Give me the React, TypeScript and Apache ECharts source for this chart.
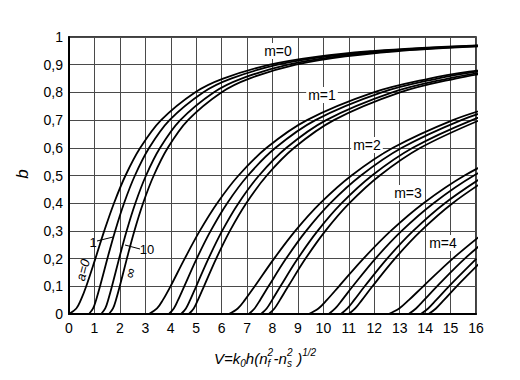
import React, { useEffect, useRef } from 'react';
import * as echarts from 'echarts';

// b levels at which V was read for each mode
const bLevelsM0 = [0, 0.02, 0.05, 0.1, 0.2, 0.3, 0.4, 0.5, 0.6, 0.7, 0.8, 0.85, 0.9, 0.93, 0.95, 0.96, 0.97];
const bLevelsM1 = [0, 0.02, 0.05, 0.1, 0.2, 0.3, 0.4, 0.5, 0.6, 0.7, 0.8, 0.85, 0.875, 0.9];
const bLevelsM2 = [0, 0.02, 0.05, 0.1, 0.2, 0.3, 0.4, 0.5, 0.6, 0.7, 0.75];
const bLevelsM3 = [0, 0.02, 0.05, 0.1, 0.2, 0.3, 0.4, 0.5, 0.6];
const bLevelsM4 = [0, 0.02, 0.05, 0.1, 0.2, 0.3];

// V values (x) for a = 0, 1, 10, ∞
const m0_a0 = [0, 0.287, 0.463, 0.678, 1.037, 1.386, 1.768, 2.221, 2.802, 3.619, 4.951, 6.058, 7.9, 9.846, 12.032, 13.694, 16.128];
const m0_a1 = [0.785, 0.947, 1.063, 1.22, 1.509, 1.814, 2.164, 2.592, 3.152, 3.951, 5.269, 6.368, 8.204, 10.149, 12.331, 13.992, 16.424];
const m0_a10 = [1.265, 1.424, 1.537, 1.689, 1.969, 2.265, 2.608, 3.028, 3.581, 4.375, 5.686, 6.782, 8.615, 10.558, 12.739, 14.4, 16.831];
const m0_aInf = [1.571, 1.73, 1.843, 1.995, 2.275, 2.57, 2.912, 3.332, 3.885, 4.678, 5.988, 7.085, 8.917, 10.86, 13.041, 14.701, 17.133];

const m1_a0 = [3.142, 3.46, 3.686, 3.99, 4.549, 5.141, 5.824, 6.664, 7.769, 9.355, 11.976, 14.169, 15.728, 17.834];
const m1_a1 = [3.927, 4.12, 4.286, 4.531, 5.021, 5.569, 6.219, 7.035, 8.119, 9.687, 12.294, 14.48, 16.035, 18.138];
const m1_a10 = [4.406, 4.597, 4.76, 5.001, 5.482, 6.02, 6.663, 7.471, 8.549, 10.11, 12.71, 14.894, 16.448];
const m1_aInf = [4.712, 4.904, 5.066, 5.306, 5.787, 6.325, 6.968, 7.775, 8.852, 10.413, 13.013, 15.196, 16.75];

const m2_a0 = [6.283, 6.634, 6.909, 7.301, 8.062, 8.895, 9.879, 11.107, 12.737, 15.091, 16.755];
const m2_a1 = [7.069, 7.294, 7.509, 7.843, 8.534, 9.323, 10.275, 11.477, 13.086, 15.423, 17.08];
const m2_a10 = [7.548, 7.771, 7.983, 8.312, 8.994, 9.775, 10.719, 11.914, 13.516, 15.846, 17.5];
const m2_aInf = [7.854, 8.077, 8.289, 8.618, 9.299, 10.08, 11.023, 12.218, 13.819, 16.149];

const m3_a0 = [9.425, 9.807, 10.132, 10.613, 11.574, 12.65, 13.935, 15.55, 17.704];
const m3_a1 = [10.21, 10.467, 10.733, 11.155, 12.046, 13.078, 14.331, 15.92, 18.053];
const m3_a10 = [10.689, 10.944, 11.207, 11.624, 12.506, 13.53, 14.775, 16.357];
const m3_aInf = [10.996, 11.251, 11.513, 11.93, 12.812, 13.835, 15.079, 16.661];

const m4_a0 = [12.566, 12.981, 13.356, 13.925, 15.086, 16.405];
const m4_a1 = [13.352, 13.641, 13.956, 14.466, 15.559, 16.833];
const m4_a10 = [13.831, 14.118, 14.43, 14.935, 16.019];
const m4_aInf = [14.137, 14.424, 14.736, 15.241, 16.324];

const aNames = ['0', '1', '10', '∞'];
const modeLabels = ['m=0', 'm=1', 'm=2', 'm=3', 'm=4'];

const FONT = '"Liberation Sans", Arial, sans-serif';

export default function App() {
  const ref = useRef<HTMLDivElement>(null);

  useEffect(() => {
    document.body.style.margin = '0';
    const chart = echarts.init(ref.current!, null, { renderer: 'svg' });

    const modes = [
      { b: bLevelsM0, curves: [m0_a0, m0_a1, m0_a10, m0_aInf] },
      { b: bLevelsM1, curves: [m1_a0, m1_a1, m1_a10, m1_aInf] },
      { b: bLevelsM2, curves: [m2_a0, m2_a1, m2_a10, m2_aInf] },
      { b: bLevelsM3, curves: [m3_a0, m3_a1, m3_a10, m3_aInf] },
      { b: bLevelsM4, curves: [m4_a0, m4_a1, m4_a10, m4_aInf] },
    ];

    const series: any[] = [];
    modes.forEach((md, mi) => {
      md.curves.forEach((vs, ai) => {
        series.push({
          type: 'line',
          name: `${modeLabels[mi]} a=${aNames[ai]}`,
          data: vs.map((v, i) => [v, md.b[i]]),
          smooth: 0.35,
          showSymbol: false,
          symbol: 'none',
          clip: true,
          silent: true,
          lineStyle: { color: '#000', width: 1.8 },
          z: 3,
        });
      });
    });

    // title pieces measured for layout
    const ctx = document.createElement('canvas').getContext('2d')!;
    const tw = (t: string, s: number) => {
      ctx.font = `italic ${s}px "Liberation Sans"`;
      return ctx.measureText(t).width;
    };
    const MAIN = 15, SMALL = 10;
    const baseY = 358;
    const pieces: any[] = [];
    let cx = 214;
    const addMain = (t: string) => {
      pieces.push({ type: 'text', x: cx, y: baseY, style: { text: t, fontSize: MAIN, fontStyle: 'italic', fontFamily: FONT, fill: '#000', align: 'left', verticalAlign: 'middle' } });
      cx += tw(t, MAIN);
    };
    const addSmall = (t: string, dy: number, advance = true) => {
      pieces.push({ type: 'text', x: cx, y: baseY + dy, style: { text: t, fontSize: SMALL, fontStyle: 'italic', fontFamily: FONT, fill: '#000', align: 'left', verticalAlign: 'middle' } });
      if (advance) cx += tw(t, SMALL);
    };
    const addStack = (sup: string, sub: string) => {
      addSmall(sup, -6, false);
      addSmall(sub, 5, false);
      cx += Math.max(tw(sup, SMALL), tw(sub, SMALL)) + 0.5;
    };
    addMain('V=k');
    addSmall('0', 5);
    addMain('h(n');
    addStack('2', 'f');
    addMain('-n');
    addStack('2', 's');
    addMain(' )');
    addSmall('1/2', -6);

    const txt = (t: string, x: number, y: number, size: number, extra: any = {}) => ({
      type: 'text', x, y, z: 100,
      style: { text: t, fontSize: size, fontFamily: FONT, fill: '#000', align: 'center', verticalAlign: 'middle', ...extra },
    });

    const graphic: any[] = [
      ...pieces,
      { ...txt('b', 22, 174, 17, { fontStyle: 'italic' }), rotation: Math.PI / 2 },
      txt('m=0', 278, 51, 14, { backgroundColor: '#fff', padding: [1, 2] }),
      txt('m=1', 322, 95, 14, { backgroundColor: '#fff', padding: [1, 2] }),
      txt('m=2', 367, 145, 14, { backgroundColor: '#fff', padding: [1, 2] }),
      txt('m=3', 408, 193, 14, { backgroundColor: '#fff', padding: [1, 2] }),
      txt('m=4', 443, 243, 14, { backgroundColor: '#fff', padding: [1, 2] }),
      { ...txt('a=0', 83, 270, 13, { fontStyle: 'italic' }), rotation: 1.32 },
      txt('1', 93, 242, 13),
      txt('10', 147, 249, 13),
      { ...txt('∞', 130, 273, 14), rotation: 1.35 },
      { type: 'line', z: 100, shape: { x1: 97, y1: 241, x2: 113, y2: 237 }, style: { stroke: '#000', lineWidth: 1 } },
      { type: 'line', z: 100, shape: { x1: 125, y1: 245, x2: 140, y2: 249 }, style: { stroke: '#000', lineWidth: 1 } },
    ];

    const fmtY = (v: number) => (v === 0 ? '0' : v === 1 ? '1' : v.toFixed(1).replace('.', ','));

    chart.setOption({
      animation: false,
      backgroundColor: '#fff',
      grid: { left: 69, top: 37, right: 44, bottom: 66, show: true, borderColor: '#000', borderWidth: 1.5, backgroundColor: 'transparent' },
      xAxis: {
        type: 'value', min: 0, max: 16, interval: 1,
        axisLine: { show: true, lineStyle: { color: '#000', width: 2 } },
        axisTick: { show: false },
        axisLabel: { color: '#000', fontSize: 14, fontFamily: FONT, margin: 7 },
        splitLine: { show: true, lineStyle: { color: '#4a4a4a', width: 1 } },
      },
      yAxis: {
        type: 'value', min: 0, max: 1, interval: 0.1,
        axisLine: { show: true, lineStyle: { color: '#000', width: 2 } },
        axisTick: { show: false },
        axisLabel: { color: '#000', fontSize: 14, fontFamily: FONT, margin: 6, formatter: fmtY },
        splitLine: { show: true, lineStyle: { color: '#4a4a4a', width: 1 } },
      },
      series,
      graphic,
    });

    return () => chart.dispose();
  }, []);

  return <div ref={ref} style={{ width: 520, height: 380 }} />;
}
